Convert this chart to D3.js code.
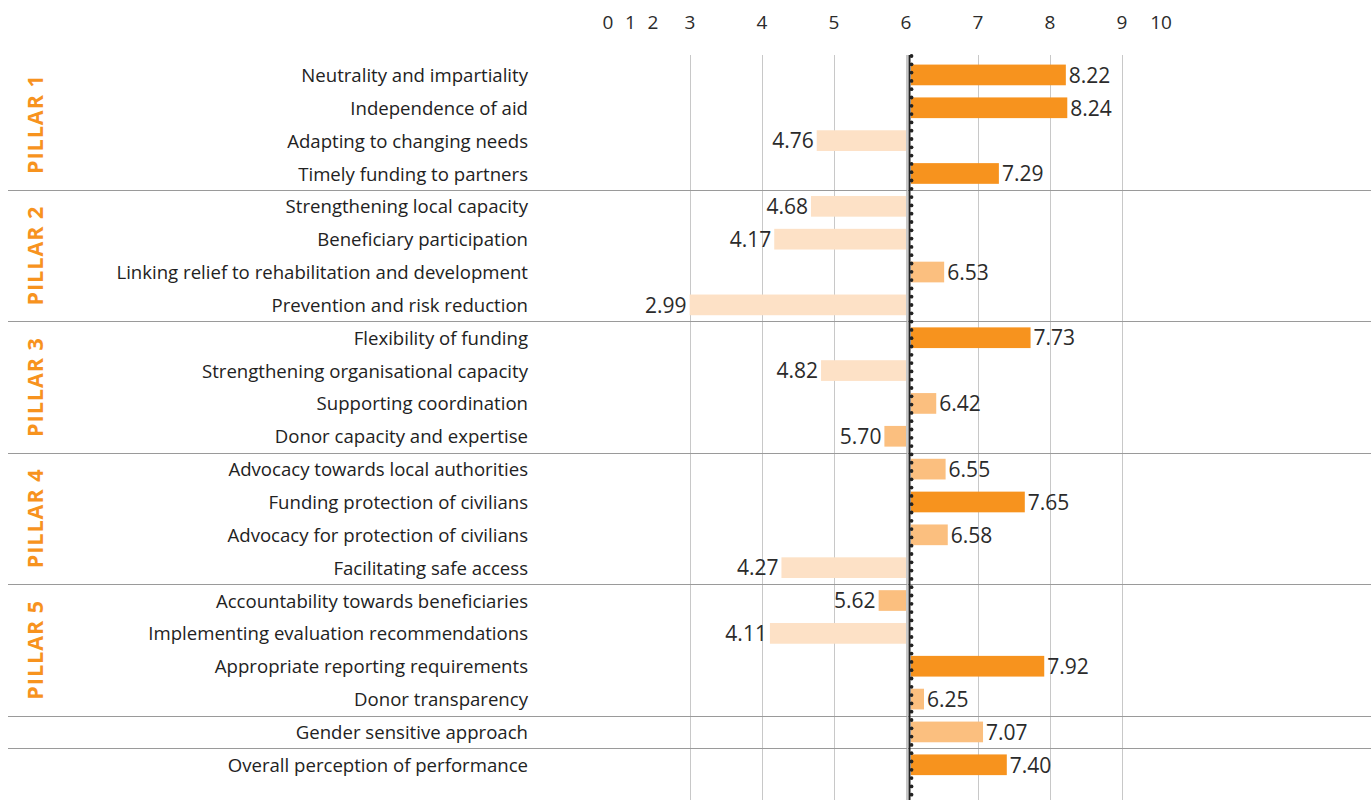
<!DOCTYPE html>
<html>
<head>
<meta charset="utf-8">
<script src="https://cdn.jsdelivr.net/npm/d3@7"></script>
<style>
  body { margin: 0; background: #fff; }
  svg { display: block; font-family: "Open Sans", sans-serif; }
</style>
</head>
<body>
<svg id="chart" width="1371" height="800"></svg>
<script>
// --- data ---
const categories = [
  "Neutrality and impartiality", "Independence of aid", "Adapting to changing needs", "Timely funding to partners",
  "Strengthening local capacity", "Beneficiary participation", "Linking relief to rehabilitation and development", "Prevention and risk reduction",
  "Flexibility of funding", "Strengthening organisational capacity", "Supporting coordination", "Donor capacity and expertise",
  "Advocacy towards local authorities", "Funding protection of civilians", "Advocacy for protection of civilians", "Facilitating safe access",
  "Accountability towards beneficiaries", "Implementing evaluation recommendations", "Appropriate reporting requirements", "Donor transparency",
  "Gender sensitive approach", "Overall perception of performance"
];
const scores = [
  8.22, 8.24, 4.76, 7.29,
  4.68, 4.17, 6.53, 2.99,
  7.73, 4.82, 6.42, 5.70,
  6.55, 7.65, 6.58, 4.27,
  5.62, 4.11, 7.92, 6.25,
  7.07, 7.40
];
// shade tier per row: 0 = light, 1 = mid, 2 = strong
const tiers = [
  2, 2, 0, 2,
  0, 0, 1, 0,
  2, 0, 1, 1,
  1, 2, 1, 0,
  1, 0, 2, 1,
  1, 2
];
const pillars = ["PILLAR 1", "PILLAR 2", "PILLAR 3", "PILLAR 4", "PILLAR 5"];
const pillarRows = [[0, 3], [4, 7], [8, 11], [12, 15], [16, 19]];
const groupBreaks = [4, 8, 12, 16, 20, 21];   // separator before these rows
const tickValues = [0, 1, 2, 3, 4, 5, 6, 7, 8, 9, 10];
const gridValues = [3, 4, 5, 6, 7, 8, 9];
const baseline = 6;

const tierColors = ["#fde1c6", "#fbbf7f", "#f7931e"];
const orange = "#f7931e";

const svg = d3.select("#chart");
const W = 1371, H = 800;

// scale: 0-2 squeezed, 3-9 linear, 9-10 squeezed (as in the original)
const x = d3.scaleLinear()
  .domain([0, 2, 3, 9, 10])
  .range([608, 653, 690, 1122, 1161]);

const y = d3.scaleBand()
  .domain(d3.range(categories.length))
  .range([58.5, 58.5 + 32.85 * categories.length])
  .paddingInner(0.37)
  .paddingOuter(0.185);

const rowTop = i => y(i) - y.step() * y.paddingInner() / 2;

// gridlines
svg.append("g")
  .selectAll("line")
  .data(gridValues)
  .join("line")
  .attr("x1", d => x(d) + 0.5)
  .attr("x2", d => x(d) + 0.5)
  .attr("y1", 55)
  .attr("y2", H)
  .attr("stroke", "#c8c8c8")
  .attr("stroke-width", 1);

// group separators
svg.append("g")
  .selectAll("line")
  .data(groupBreaks)
  .join("line")
  .attr("x1", 8)
  .attr("x2", W)
  .attr("y1", d => Math.round(rowTop(d)) + 0.5)
  .attr("y2", d => Math.round(rowTop(d)) + 0.5)
  .attr("stroke", "#9a9a9a")
  .attr("stroke-width", 1.2);

// tick labels
svg.append("g")
  .selectAll("text")
  .data(tickValues)
  .join("text")
  .attr("x", d => x(d))
  .attr("y", 29)
  .attr("text-anchor", "middle")
  .attr("font-size", 19)
  .attr("fill", "#2b2b2b")
  .text(d => d);

// bars
const x0 = x(baseline);
const rows = scores.map((v, i) => ({ v, i, tier: tiers[i], label: categories[i] }));

svg.append("g")
  .selectAll("rect")
  .data(rows)
  .join("rect")
  .attr("x", d => d.v >= baseline ? x0 + 5 : x(d.v))
  .attr("width", d => d.v >= baseline ? Math.max(0, x(d.v) - x0 - 5) : x0 - x(d.v))
  .attr("y", d => y(d.i))
  .attr("height", y.bandwidth())
  .attr("fill", d => tierColors[d.tier]);

// value labels
svg.append("g")
  .selectAll("text")
  .data(rows)
  .join("text")
  .attr("x", d => d.v >= baseline ? x(d.v) + 3 : x(d.v) - 3)
  .attr("y", d => y(d.i) + y.bandwidth() / 2)
  .attr("dy", "0.37em")
  .attr("text-anchor", d => d.v >= baseline ? "start" : "end")
  .attr("font-size", 21)
  .attr("fill", "#2b2b2b")
  .text(d => d.v.toFixed(2));

// category labels
svg.append("g")
  .selectAll("text")
  .data(rows)
  .join("text")
  .attr("x", 528)
  .attr("y", d => y(d.i) + y.bandwidth() / 2)
  .attr("dy", "0.38em")
  .attr("text-anchor", "end")
  .attr("font-size", 18.6)
  .attr("fill", "#222")
  .text(d => d.label);

// baseline: solid line with a row of dots beside it
const baseG = svg.append("g");
baseG.append("line")
  .attr("x1", x0 + 1.5).attr("x2", x0 + 1.5)
  .attr("y1", 55).attr("y2", H)
  .attr("stroke", "#c8c8c8").attr("stroke-width", 1);
baseG.append("line")
  .attr("x1", x0 + 3.5).attr("x2", x0 + 3.5)
  .attr("y1", 55).attr("y2", H)
  .attr("stroke", "#222").attr("stroke-width", 2);
baseG.selectAll("circle")
  .data(d3.range(56, H, 8.3))
  .join("circle")
  .attr("cx", x0 + 5.5)
  .attr("cy", d => d)
  .attr("r", 1.9)
  .attr("fill", "#222");

// pillar labels
svg.append("g")
  .selectAll("text")
  .data(pillars)
  .join("text")
  .attr("transform", (d, k) => {
    const [a, b] = pillarRows[k];
    const cy = (rowTop(a) + rowTop(b) + y.step()) / 2;
    return `translate(43,${cy}) rotate(-90)`;
  })
  .attr("text-anchor", "middle")
  .attr("font-size", 21.5)
  .attr("font-weight", "bold")
  .attr("letter-spacing", 1)
  .attr("fill", orange)
  .text(d => d);
</script>
</body>
</html>
